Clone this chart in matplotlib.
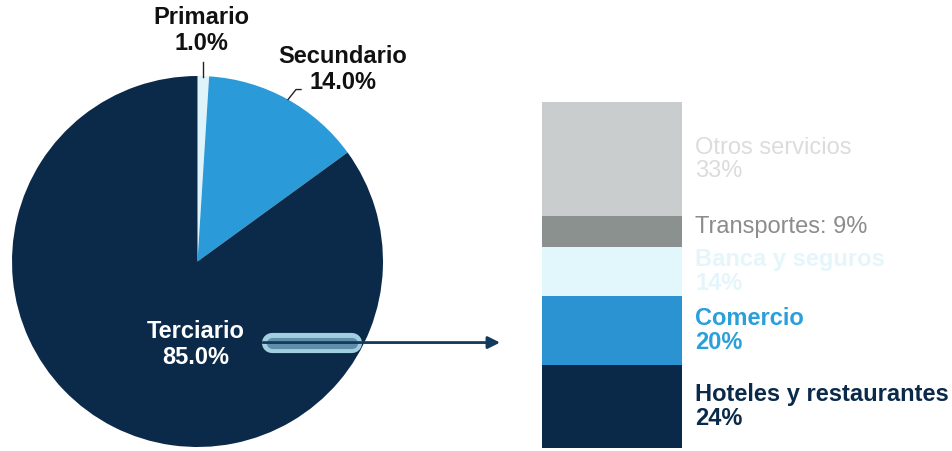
import matplotlib.pyplot as plt
import numpy as np

plt.rcParams['font.family'] = ['Liberation Sans', 'DejaVu Sans']

# Sectores (gráfico circular)
sectores = ['Primario', 'Secundario', 'Terciario']
participacion = [1.0, 14.0, 85.0]
colores_pie = ['#dff3fb', '#2a9ad8', '#0b2a4a']

# Desglose del sector terciario (barra apilada, de abajo hacia arriba)
ramas = ['Hoteles y restaurantes', 'Comercio', 'Banca y seguros', 'Transportes', 'Otros servicios']
ramas_pct = [24, 20, 14, 9, 33]
colores_bar = ['#0a2848', '#2b93d2', '#e2f7fc', '#8a918e', '#c9cdcd']
colores_txt = ['#0b2a4a', '#2a9fd9', '#e4f6fb', '#8c8c8c', '#dcdcdc']

fig = plt.figure(figsize=(9.53, 4.51), dpi=100)

# --- gráfico circular ---
ax = fig.add_axes([12/953, 4/451, 371/953, 371/451])
ax.pie(participacion, colors=colores_pie, startangle=90, counterclock=False,
       radius=1, wedgeprops=dict(linewidth=0))
ax.set_xlim(-1, 1)
ax.set_ylim(-1, 1)
ax.axis('off')

fs = 17
ax.text(0.019, 1.245, f'{sectores[0]}\n{participacion[0]:.1f}%', ha='center', va='center',
        fontsize=fs, fontweight='bold', color='#111111', linespacing=1.2)
ax.plot([0.03, 0.03], [1.078, 0.997], color='#222222', lw=1, clip_on=False)

ax.text(0.784, 1.035, f'{sectores[1]}\n{participacion[1]:.1f}%', ha='center', va='center',
        fontsize=fs, fontweight='bold', color='#111111', linespacing=1.2)
ax.plot([0.488, 0.531, 0.558], [0.873, 0.927, 0.927], color='#222222', lw=1, clip_on=False)

ax.text(-0.008, -0.447, f'{sectores[2]}\n{participacion[2]:.1f}%', ha='center', va='center',
        fontsize=fs, fontweight='bold', color='white', linespacing=1.15)

# resaltado y flecha
ax.plot([0.402, 0.833], [-0.437, -0.437], color='#b3e2f0', lw=14.5,
        solid_capstyle='round', clip_on=False, alpha=0.9)
ax.plot([0.402, 0.833], [-0.437, -0.437], color='#5f8ea8', lw=8,
        solid_capstyle='round', clip_on=False)
ax.annotate('', xy=(1.631, -0.437), xytext=(0.353, -0.437), annotation_clip=False,
            arrowprops=dict(arrowstyle='-|>', color='#123a5c', lw=2, mutation_scale=18,
                            shrinkA=0, shrinkB=0))

# --- barra apilada ---
bx = fig.add_axes([542/953, 3/451, 140/953, 346/451])
bottom = 0
for nombre, v, c, tc in zip(ramas, ramas_pct, colores_bar, colores_txt):
    bx.bar(0.5, v, width=1, bottom=bottom, color=c, linewidth=0)
    mid = bottom + v / 2
    if nombre == 'Transportes':
        etiqueta = f'{nombre}: {v}%'
        peso = 'normal'
        mid += 1.5
    else:
        etiqueta = f'{nombre}\n{v}%'
        peso = 'normal' if nombre == 'Otros servicios' else 'bold'
    bx.text(1.093, mid, etiqueta, ha='left', va='center', fontsize=fs,
            fontweight=peso, color=tc, linespacing=1.05)
    bottom += v
bx.set_xlim(0, 1)
bx.set_ylim(0, 100)
bx.axis('off')

fig.savefig('out.png', dpi=100)
